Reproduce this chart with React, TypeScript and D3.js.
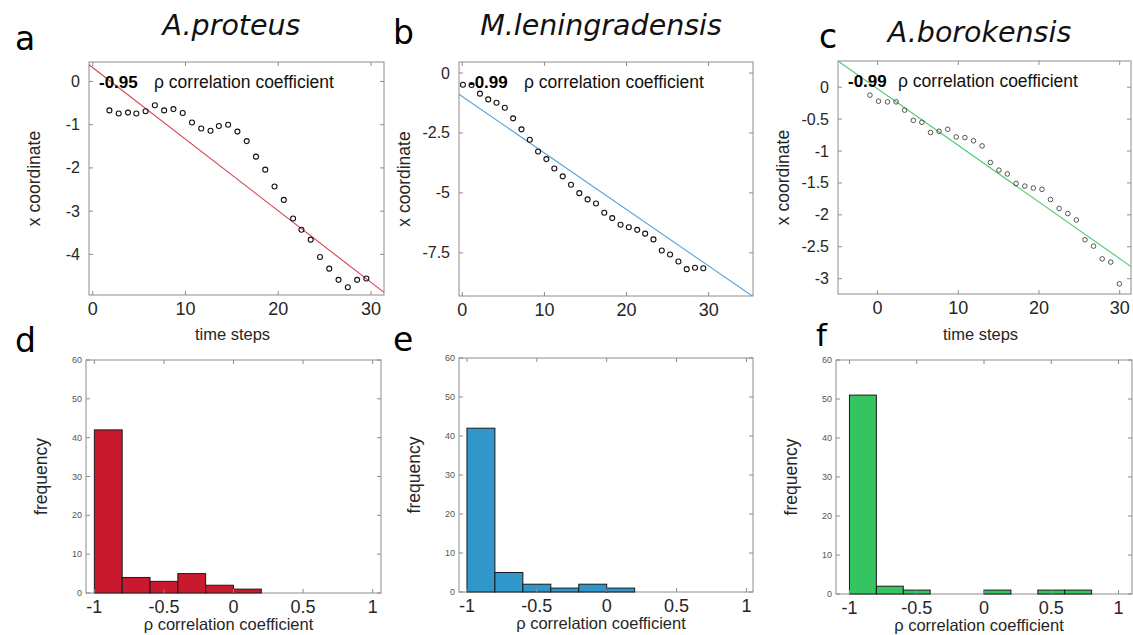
import React from "react";
import * as d3 from "d3";

// ---------- data ----------
const speciesNames = ["A.proteus", "M.leningradensis", "A.borokensis"];
const panelLetters = ["a", "b", "c", "d", "e", "f"];
const rhoValues = ["-0.95", "-0.99", "-0.99"];

const aTime = [1.8, 2.8, 3.8, 4.7, 5.7, 6.7, 7.7, 8.7, 9.7, 10.7, 11.7, 12.7, 13.6, 14.6, 15.6, 16.6, 17.6, 18.6, 19.6, 20.6, 21.6, 22.5, 23.5, 24.5, 25.5, 26.5, 27.5, 28.5, 29.5];
const aCoord = [-0.67, -0.74, -0.72, -0.74, -0.69, -0.55, -0.67, -0.64, -0.73, -0.95, -1.09, -1.14, -1.03, -1.0, -1.16, -1.38, -1.74, -2.04, -2.43, -2.74, -3.17, -3.43, -3.66, -4.06, -4.33, -4.59, -4.76, -4.59, -4.56];

const bTime = [0.08, 1.13, 2.15, 3.16, 4.17, 5.18, 6.19, 7.21, 8.22, 9.23, 10.24, 11.21, 12.23, 13.24, 14.25, 15.26, 16.28, 17.29, 18.26, 19.27, 20.28, 21.3, 22.27, 23.28, 24.29, 25.3, 26.32, 27.33, 28.34, 29.35];
const bCoord = [-0.49, -0.5, -0.86, -1.1, -1.24, -1.45, -1.89, -2.35, -2.78, -3.27, -3.59, -3.98, -4.31, -4.66, -5.01, -5.27, -5.44, -5.83, -6.05, -6.33, -6.43, -6.54, -6.7, -6.94, -7.4, -7.57, -7.86, -8.18, -8.12, -8.14];

const cTime = [-0.94, 0.12, 1.23, 2.3, 3.36, 4.43, 5.49, 6.56, 7.62, 8.69, 9.75, 10.82, 11.89, 12.95, 13.98, 15.04, 16.07, 17.17, 18.24, 19.3, 20.37, 21.43, 22.5, 23.57, 24.63, 25.7, 26.76, 27.83, 28.89, 29.96];
const cCoord = [-0.125, -0.22, -0.23, -0.23, -0.36, -0.52, -0.55, -0.71, -0.69, -0.66, -0.78, -0.79, -0.84, -0.92, -1.18, -1.3, -1.36, -1.51, -1.55, -1.58, -1.6, -1.76, -1.9, -1.98, -2.08, -2.39, -2.49, -2.69, -2.74, -3.08];

const fitIntercepts = [0.32, -0.98, -0.025];
const fitSlopes = [-0.1656, -0.2356, -0.0887];

const xTicksA = [0, 10, 20, 30];
const yTicksA = [0, -1, -2, -3, -4];
const xTicksB = [0, 10, 20, 30];
const yTicksB = [0, -2.5, -5, -7.5];
const xTicksC = [0, 10, 20, 30];
const yTicksC = [0, -0.5, -1, -1.5, -2, -2.5, -3];

const binEdges = [-1, -0.8, -0.6, -0.4, -0.2, 0, 0.2, 0.4, 0.6, 0.8, 1];
const dCounts = [42, 4, 3, 5, 2, 1, 0, 0, 0, 0];
const eCounts = [42, 5, 2, 1, 2, 1, 0, 0, 0, 0];
const fCounts = [51, 2, 1, 0, 0, 1, 0, 1, 1, 0];
const histXTicks = [-1, -0.5, 0, 0.5, 1];
const histYTicks = [0, 10, 20, 30, 40, 50, 60];

// ---------- styling / layout ----------
const SANS = "'Liberation Sans', Arial, sans-serif";
const VERD = "'DejaVu Sans', Verdana, sans-serif";
const AXIS = "#8c8c8c";
const TXT = "#262626";
const barColors = ["#c8192f", "#3196c9", "#34c561"];
const lineColors = ["#d8404f", "#52a8d7", "#4ccb6e"];

type Box = { l: number; r: number; t: number; b: number };

const scatterBoxes: Box[] = [
  { l: 89, r: 384, t: 62, b: 295 },
  { l: 459, r: 753, t: 62, b: 296 },
  { l: 838, r: 1131, t: 61, b: 294 },
];
const histBoxes: Box[] = [
  { l: 86, r: 381, t: 360, b: 593 },
  { l: 459, r: 753, t: 358, b: 592 },
  { l: 836, r: 1132, t: 360, b: 594 },
];
const scatterXDomains = [[-0.4, 31.4], [-0.4, 35.4], [-4.9, 31.4]];
const scatterYDomains = [[-4.94, 0.45], [-9.3, 0.46], [-3.24, 0.41]];
const histXDomains = [[-1.06, 1.06], [-1.057, 1.047], [-1.1, 1.1]];

const letterPos = [
  [15, 50], [393, 44], [819, 48],
  [15, 352], [393, 351], [816, 346],
];
const titleY = [35, 35, 42];

function fmt(v: number) {
  return String(v);
}

function Scatter({ i, time, coord, xTicks, yTicks, showXLabel }: any) {
  const box: Box = scatterBoxes[i];
  const x = d3.scaleLinear().domain(scatterXDomains[i]).range([box.l, box.r]);
  const y = d3.scaleLinear().domain(scatterYDomains[i]).range([box.b, box.t]);
  const [x0, x1] = scatterXDomains[i];
  const line = d3.line<number>()
    .x((t) => x(t))
    .y((t) => y(fitIntercepts[i] + fitSlopes[i] * t));
  const clipId = `clip-s${i}`;
  const tl = 4;
  return (
    <g>
      <defs>
        <clipPath id={clipId}>
          <rect x={box.l} y={box.t} width={box.r - box.l} height={box.b - box.t} />
        </clipPath>
      </defs>
      <rect x={box.l} y={box.t} width={box.r - box.l} height={box.b - box.t} fill="white" stroke={AXIS} strokeWidth={1} />
      {xTicks.map((t: number) => (
        <g key={"xt" + t}>
          <line x1={x(t)} x2={x(t)} y1={box.b} y2={box.b - tl} stroke={AXIS} />
          <line x1={x(t)} x2={x(t)} y1={box.t} y2={box.t + tl} stroke={AXIS} />
          <text x={x(t)} y={box.b + 20} textAnchor="middle" fontFamily={SANS} fontSize={18} fill={TXT}>{fmt(t)}</text>
        </g>
      ))}
      {yTicks.map((t: number) => (
        <g key={"yt" + t}>
          <line x1={box.l} x2={box.l + tl} y1={y(t)} y2={y(t)} stroke={AXIS} />
          <line x1={box.r} x2={box.r - tl} y1={y(t)} y2={y(t)} stroke={AXIS} />
          <text x={box.l - 9} y={y(t) + 5.5} textAnchor="end" fontFamily={SANS} fontSize={16} fill={TXT}>{fmt(t)}</text>
        </g>
      ))}
      <g clipPath={`url(#${clipId})`}>
        <path d={line([x0, x1]) || ""} fill="none" stroke={lineColors[i]} strokeWidth={1.1} />
        {time.map((t: number, k: number) => (
          <circle key={k} cx={x(t)} cy={y(coord[k])} r={i === 2 ? 2.3 : 2.5} fill="none" stroke={i === 2 ? "#444" : "#111"} strokeWidth={i === 2 ? 0.9 : 1.1} />
        ))}
      </g>
      <text x={box.l + 10} y={box.t + 26} fontFamily={SANS} fontSize={17} fontWeight="bold" fill="#000">{rhoValues[i]}</text>
      <text x={box.l + (i === 2 ? 60 : 65)} y={box.t + 26} fontFamily={SANS} fontSize={17.5} fill="#111">ρ correlation coefficient</text>
      <text transform={`translate(${box.l - 49},${(box.t + box.b) / 2}) rotate(-90)`} textAnchor="middle" fontFamily={SANS} fontSize={17.5} fill={TXT}>x coordinate</text>
      {showXLabel && (
        <text x={(box.l + box.r) / 2 - 4} y={340} textAnchor="middle" fontFamily={SANS} fontSize={16.5} fill={TXT}>time steps</text>
      )}
      <text x={(box.l + box.r) / 2 - 5} y={titleY[i]} textAnchor="middle" fontFamily={VERD} fontStyle="italic" fontSize={28.5} fill="#111">{speciesNames[i]}</text>
    </g>
  );
}

function Hist({ i, counts }: any) {
  const box: Box = histBoxes[i];
  const x = d3.scaleLinear().domain(histXDomains[i]).range([box.l, box.r]);
  const y = d3.scaleLinear().domain([0, 60]).range([box.b, box.t]);
  const tl = 4;
  return (
    <g>
      <rect x={box.l} y={box.t} width={box.r - box.l} height={box.b - box.t} fill="white" stroke={AXIS} strokeWidth={1} />
      {counts.map((c: number, k: number) => (
        <rect key={k} x={x(binEdges[k])} y={y(c)} width={x(binEdges[k + 1]) - x(binEdges[k])} height={y(0) - y(c)}
          fill={barColors[i]} stroke="#1a1a1a" strokeWidth={1} />
      ))}
      {histXTicks.map((t: number) => (
        <g key={"xt" + t}>
          <line x1={x(t)} x2={x(t)} y1={box.b} y2={box.b - tl} stroke={AXIS} />
          <line x1={x(t)} x2={x(t)} y1={box.t} y2={box.t + tl} stroke={AXIS} />
          <text x={x(t)} y={box.b + 20} textAnchor="middle" fontFamily={SANS} fontSize={18} fill={TXT}>{fmt(t)}</text>
        </g>
      ))}
      {histYTicks.map((t: number) => (
        <g key={"yt" + t}>
          <line x1={box.l} x2={box.l + tl} y1={y(t)} y2={y(t)} stroke={AXIS} />
          <line x1={box.r} x2={box.r - tl} y1={y(t)} y2={y(t)} stroke={AXIS} />
          <text x={box.l - 4} y={y(t) + 3} textAnchor="end" fontFamily={SANS} fontSize={9} fill="#555">{t}</text>
        </g>
      ))}
      <text x={(box.l + box.r) / 2 - 5} y={box.b + 37} textAnchor="middle" fontFamily={SANS} fontSize={16.5} fill={TXT}>ρ correlation coefficient</text>
      <text transform={`translate(${box.l - 39},${(box.t + box.b) / 2}) rotate(-90)`} textAnchor="middle" fontFamily={SANS} fontSize={17.5} fill={TXT}>frequency</text>
    </g>
  );
}

export default function App() {
  return (
    <svg width={1133} height={635} style={{ position: "absolute", left: 0, top: 0, background: "white" }}>
      <rect x={0} y={0} width={1133} height={635} fill="white" />
      <Scatter i={0} time={aTime} coord={aCoord} xTicks={xTicksA} yTicks={yTicksA} showXLabel={true} />
      <Scatter i={1} time={bTime} coord={bCoord} xTicks={xTicksB} yTicks={yTicksB} showXLabel={false} />
      <Scatter i={2} time={cTime} coord={cCoord} xTicks={xTicksC} yTicks={yTicksC} showXLabel={true} />
      <Hist i={0} counts={dCounts} />
      <Hist i={1} counts={eCounts} />
      <Hist i={2} counts={fCounts} />
      {panelLetters.map((L, k) => (
        <text key={L} x={letterPos[k][0]} y={letterPos[k][1]} fontFamily={VERD} fontSize={k === 5 ? 31 : 33} fill="#000">{L}</text>
      ))}
    </svg>
  );
}
